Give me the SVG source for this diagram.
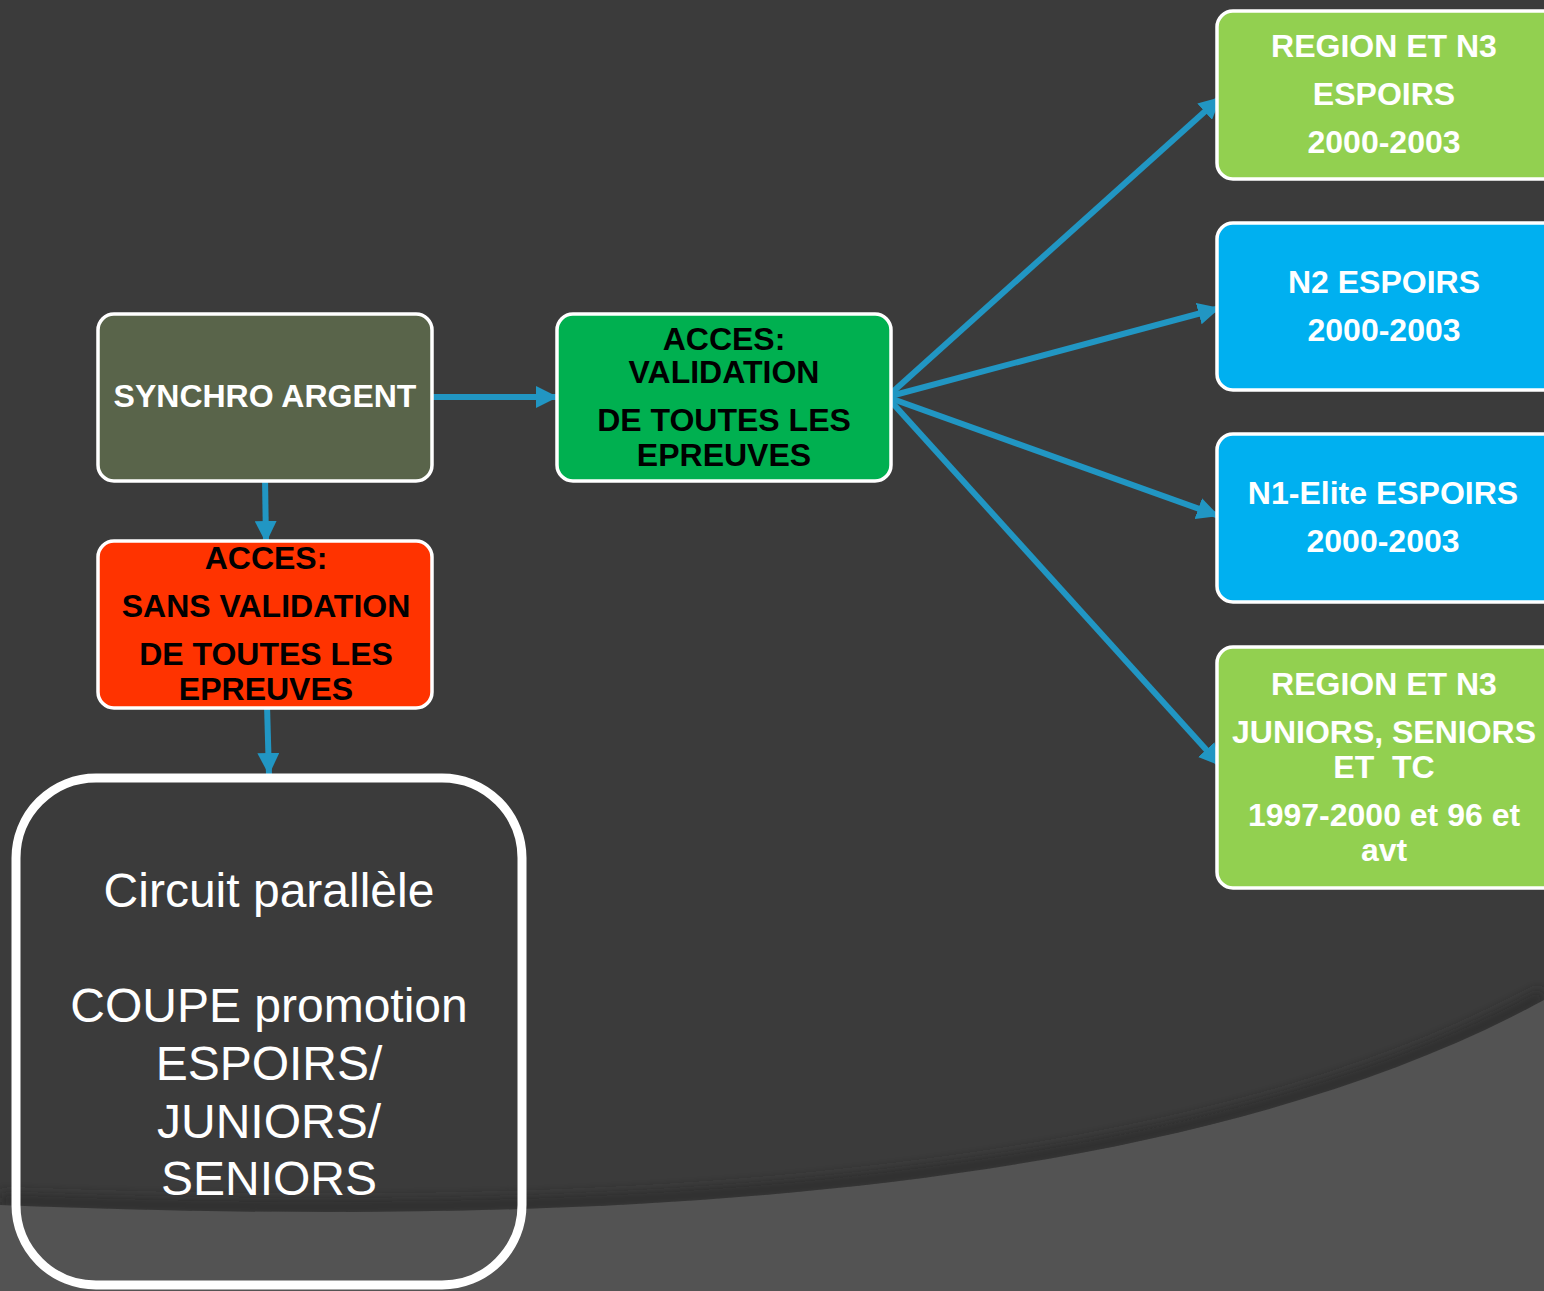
<svg xmlns="http://www.w3.org/2000/svg" width="1544" height="1291" viewBox="0 0 1544 1291">
<style>
.box{stroke:#ffffff;stroke-width:3.5}
.b{font-family:"Liberation Sans",Arial,sans-serif;font-weight:bold;font-size:32px;text-anchor:middle}
.w{fill:#ffffff}
.k{fill:#000000}
.conn{stroke:#2196c3;stroke-width:6;fill:none;marker-end:url(#ah)}
.big{font-family:"Liberation Sans",Arial,sans-serif;font-size:48px;fill:#ffffff;text-anchor:middle}
</style>
<defs>
<marker id="ah" markerUnits="userSpaceOnUse" markerWidth="24" markerHeight="22" refX="22" refY="11" orient="auto">
<path d="M0,0 L22,11 L0,22 Z" fill="#2196c3"/>
</marker>
<filter id="blur" x="-5%" y="-20%" width="110%" height="140%">
<feGaussianBlur stdDeviation="6"/>
</filter>
</defs>
<rect x="0" y="0" width="1544" height="1291" fill="#3b3b3b"/>
<path d="M0,1205 C500,1225 1150,1215 1544,1000" fill="none" stroke="#2a2a2a" stroke-width="14" stroke-opacity="0.7" filter="url(#blur)" transform="translate(0,-5)"/>
<path d="M0,1205 C500,1225 1150,1215 1544,1000 L1544,1291 L0,1291 Z" fill="#535353"/>

<g id="connectors">
<line class="conn" x1="428" y1="397" x2="558" y2="397"/>
<line class="conn" x1="265" y1="477" x2="266" y2="543"/>
<line class="conn" x1="267" y1="705" x2="269" y2="775"/>
<line class="conn" x1="887" y1="397" x2="1221" y2="97"/>
<line class="conn" x1="887" y1="397" x2="1220" y2="308"/>
<line class="conn" x1="887" y1="397" x2="1219" y2="516"/>
<line class="conn" x1="887" y1="397" x2="1221" y2="766"/>
</g>

<g id="synchro">
<rect class="box" x="98" y="314" width="334" height="167" rx="16" fill="#59644a"/>
<text class="b w" x="265" y="407">SYNCHRO ARGENT</text>
</g>

<g id="acces-validation">
<rect class="box" x="557" y="314" width="334" height="167" rx="16" fill="#00b050"/>
<text class="b k" x="724" y="350">ACCES:</text>
<text class="b k" x="724" y="383">VALIDATION</text>
<text class="b k" x="724" y="431">DE TOUTES LES</text>
<text class="b k" x="724" y="466">EPREUVES</text>
</g>

<g id="acces-sans-validation">
<rect class="box" x="98" y="541" width="334" height="167" rx="16" fill="#ff3300"/>
<text class="b k" x="266" y="569">ACCES:</text>
<text class="b k" x="266" y="617">SANS VALIDATION</text>
<text class="b k" x="266" y="665">DE TOUTES LES</text>
<text class="b k" x="266" y="700">EPREUVES</text>
</g>

<g id="circuit-parallele">
<rect x="16" y="778" width="506" height="507" rx="80" fill="none" stroke="#ffffff" stroke-width="9"/>
<text class="big" x="269" y="907">Circuit parallèle</text>
<text class="big" x="269" y="1022">COUPE promotion</text>
<text class="big" x="269" y="1080">ESPOIRS/</text>
<text class="big" x="269" y="1138">JUNIORS/</text>
<text class="big" x="269" y="1195">SENIORS</text>
</g>

<g id="region-espoirs">
<rect class="box" x="1217" y="11" width="345" height="168" rx="16" fill="#92d050"/>
<text class="b w" x="1384" y="57">REGION ET N3</text>
<text class="b w" x="1384" y="105">ESPOIRS</text>
<text class="b w" x="1384" y="153">2000-2003</text>
</g>

<g id="n2-espoirs">
<rect class="box" x="1217" y="223" width="345" height="167" rx="16" fill="#00b0f0"/>
<text class="b w" x="1384" y="293">N2 ESPOIRS</text>
<text class="b w" x="1384" y="341">2000-2003</text>
</g>

<g id="n1-elite-espoirs">
<rect class="box" x="1217" y="434" width="345" height="168" rx="16" fill="#00b0f0"/>
<text class="b w" x="1383" y="504">N1-Elite ESPOIRS</text>
<text class="b w" x="1383" y="552">2000-2003</text>
</g>

<g id="region-juniors">
<rect class="box" x="1217" y="647" width="345" height="241" rx="16" fill="#92d050"/>
<text class="b w" x="1384" y="695">REGION ET N3</text>
<text class="b w" x="1384" y="743">JUNIORS, SENIORS</text>
<text class="b w" x="1384" y="778" xml:space="preserve">ET  TC</text>
<text class="b w" x="1384" y="826">1997-2000 et 96 et</text>
<text class="b w" x="1384" y="861">avt</text>
</g>
</svg>
